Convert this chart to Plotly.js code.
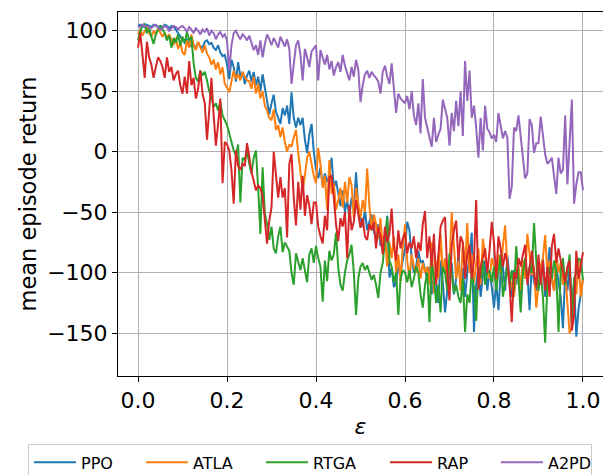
<!DOCTYPE html>
<html>
<head>
<meta charset="utf-8">
<script src="https://cdn.plot.ly/plotly-3.0.1.min.js"></script>
<style>
html,body{margin:0;padding:0;background:#fff;}
#chart{width:603px;height:475px;}
</style>
</head>
<body>
<div id="chart"></div>
<script>
const EPS = [
0,0.005,0.01,0.015,0.02,0.025,0.03,0.035,0.04,0.045,
0.05,0.055,0.06,0.065,0.07,0.075,0.08,0.085,0.09,0.095,
0.1,0.105,0.11,0.115,0.12,0.125,0.13,0.135,0.14,0.145,
0.15,0.155,0.16,0.165,0.17,0.175,0.18,0.185,0.19,0.195,
0.2,0.205,0.21,0.215,0.22,0.225,0.23,0.235,0.24,0.245,
0.25,0.255,0.26,0.265,0.27,0.275,0.28,0.285,0.29,0.295,
0.3,0.305,0.31,0.315,0.32,0.325,0.33,0.335,0.34,0.345,
0.35,0.355,0.36,0.365,0.37,0.375,0.38,0.385,0.39,0.395,
0.4,0.405,0.41,0.415,0.42,0.425,0.43,0.435,0.44,0.445,
0.45,0.455,0.46,0.465,0.47,0.475,0.48,0.485,0.49,0.495,
0.5,0.505,0.51,0.515,0.52,0.525,0.53,0.535,0.54,0.545,
0.55,0.555,0.56,0.565,0.57,0.575,0.58,0.585,0.59,0.595,
0.6,0.605,0.61,0.615,0.62,0.625,0.63,0.635,0.64,0.645,
0.65,0.655,0.66,0.665,0.67,0.675,0.68,0.685,0.69,0.695,
0.7,0.705,0.71,0.715,0.72,0.725,0.73,0.735,0.74,0.745,
0.75,0.755,0.76,0.765,0.77,0.775,0.78,0.785,0.79,0.795,
0.8,0.805,0.81,0.815,0.82,0.825,0.83,0.835,0.84,0.845,
0.85,0.855,0.86,0.865,0.87,0.875,0.88,0.885,0.89,0.895,
0.9,0.905,0.91,0.915,0.92,0.925,0.93,0.935,0.94,0.945,
0.95,0.955,0.96,0.965,0.97,0.975,0.98,0.985,0.99,0.995,1.0];

const PPO = [
104,105,104,103,105,104,103,105,104,103,
104,103,105,104,102,104,103,101,98,95,
92,90,93,89,87,88,86,90,87,86,
91,92,89,90,86,84,88,82,79,80,
72,60,76,70,58,74,62,66,56,63,
67,58,66,55,62,50,64,53,44,31,
40,47,33,28,23,36,30,38,23,49,
28,20,28,22,28,10,-1,14,23,0,
-15,-22,-13,-28,-18,-25,-20,-5,-30,-24,
-35,-45,-32,-50,-40,-54,-38,-47,-17,-46,
-55,-62,-48,-65,-58,-52,-66,-72,-60,-78,
-70,-82,-53,-104,-96,-112,-108,-95,-100,-88,
-80,-58,-65,-88,-100,-95,-82,-92,-90,-98,
-105,-95,-118,-100,-110,-125,-90,-108,-133,-115,
-100,-92,-118,-105,-85,-110,-96,-120,-100,-88,
-67,-149,-110,-95,-120,-102,-90,-115,-98,-112,
-129,-108,-131,-100,-95,-115,-86,-105,-120,-98,
-110,-95,-118,-90,-105,-100,-131,-92,-108,-115,
-97,-110,-88,-120,-100,-79,-105,-115,-95,-110,
-120,-146,-100,-115,-95,-125,-108,-153,-130,-118,-105];

const ATLA = [
97,101,96,100,103,98,95,100,97,102,
99,95,98,94,97,92,88,94,85,90,
82,80,92,86,97,88,84,91,86,82,
88,81,78,72,76,68,74,64,70,56,
53,49,58,67,60,64,59,66,62,59,
58,52,62,48,56,44,50,38,34,28,
26,35,18,22,12,20,8,0,6,4,
12,18,-1,-15,-32,-20,-5,0,-12,-20,
-26,3,-10,-30,-20,-48,-7,-35,-26,-48,
-40,-30,-46,-25,-42,-21,-28,-55,-30,-45,
-55,-40,-50,-14,-45,-65,-52,-60,-72,-55,
-80,-68,-95,-75,-88,-70,-100,-85,-107,-78,
-60,-90,-105,-85,-95,-100,-88,-105,-92,-100,
-95,-110,-75,-117,-90,-105,-68,-100,-88,-112,
-95,-50,-80,-105,-90,-115,-75,-95,-59,-100,
-85,-108,-92,-80,-110,-72,-86,-98,-105,-88,
-95,-110,-85,-100,-78,-61,-95,-105,-110,-120,
-100,-95,-115,-90,-105,-68,-85,-102,-95,-129,
-110,-95,-88,-69,-100,-90,-105,-115,-83,-100,
-92,-110,-100,-125,-150,-145,-110,-118,-90,-120,-105];

const RTGA = [
92,100,104,106,98,102,95,89,97,100,
104,101,98,92,96,86,94,90,97,88,
95,90,99,92,95,73,61,58,67,63,
66,59,50,45,37,40,34,41,30,26,
22,15,8,1,-3,6,-42,-5,-7,1,
-10,-18,-5,1,-30,-68,-13,-51,-60,-73,
-62,-80,-84,-70,-62,-83,-75,-78,-82,-100,
-110,-84,-92,-98,-88,-100,-108,-85,-80,-92,
-78,-88,-95,-124,-90,-107,-82,-90,-85,-67,
-96,-110,-115,-100,-90,-85,-77,-100,-135,-105,
-95,-92,-98,-94,-100,-106,-102,-110,-121,-100,
-92,-75,-54,-90,-95,-108,-100,-135,-105,-98,
-100,-108,-98,-112,-105,-95,-100,-118,-129,-110,
-100,-141,-90,-105,-125,-110,-133,-95,-100,-115,
-84,-100,-117,-110,-120,-125,-105,-149,-118,-125,
-100,-112,-140,-95,-105,-90,-110,-100,-98,-108,
-95,-115,-100,-85,-120,-105,-95,-110,-98,-115,
-78,-105,-133,-100,-88,-105,-95,-100,-59,-90,
-115,-100,-120,-158,-110,-95,-105,-90,-100,-149,
-98,-88,-110,-100,-85,-145,-105,-100,-88,-90,-106];

const RAP = [
86,98,80,61,91,78,72,61,70,78,
75,70,61,78,66,70,59,64,67,55,
48,62,48,75,55,61,44,52,67,48,
40,10,34,61,30,5,23,44,-26,8,
6,1,-15,-43,1,-12,-15,-10,-12,7,
-4,-17,-24,-32,-28,-30,-37,-54,-76,-57,
-46,0,-20,-38,-21,-38,-30,-71,-10,-2,
-38,-61,-25,-48,-20,-53,-36,-45,-60,-42,
-42,-62,-70,-76,-53,-65,-21,-20,-38,-60,
-74,-55,-62,-50,-88,-44,-65,-58,-40,-52,
-63,-55,-70,-73,-60,-65,-58,-80,-62,-70,
-85,-62,-75,-68,-47,-78,-90,-65,-80,-72,
-67,-84,-75,-80,-70,-88,-75,-82,-60,-49,
-88,-70,-95,-68,-110,-85,-62,-57,-54,-100,
-123,-78,-65,-57,-90,-70,-75,-105,-85,-77,
-105,-90,-40,-114,-95,-88,-80,-100,-82,-58,
-75,-105,-70,-80,-95,-84,-92,-110,-141,-100,
-105,-88,-95,-85,-77,-110,-95,-82,-100,-112,
-85,-110,-90,-115,-95,-120,-78,-68,-92,-80,
-90,-100,-108,-95,-90,-148,-135,-82,-105,-95,-83];

const A2PD = [
104,103,105,104,104,103,102,104,105,103,
101,102,104,103,100,102,104,103,101,103,
104,102,99,103,101,98,102,100,97,101,
99,102,96,100,98,93,97,99,95,97,
92,67,88,98,100,96,93,97,95,92,
96,90,84,88,80,92,78,89,97,93,
88,94,90,86,95,91,87,93,85,56,
72,88,92,80,59,85,78,70,83,86,
88,59,84,78,72,80,68,75,63,70,
74,66,80,71,64,59,70,62,76,68,
41,55,64,67,61,66,63,61,58,48,
66,71,62,56,73,55,32,48,44,42,
40,46,35,50,30,22,40,15,60,28,
20,12,4,28,8,14,19,43,35,28,
5,32,17,42,21,50,13,75,42,67,
28,38,20,-5,28,1,38,19,16,11,
14,8,32,20,11,17,12,-39,-29,20,
17,30,14,-2,-22,-18,27,22,-1,7,
7,29,15,-2,-10,-8,-5,-20,-35,-5,
-18,-15,30,-27,15,43,-43,-27,-17,-17,-32];

const SERIES_NAMES = ['PPO', 'ATLA', 'RTGA', 'RAP', 'A2PD'];
const SERIES_VALUES = [PPO, ATLA, RTGA, RAP, A2PD];
const COLORS = ['#1f77b4', '#ff7f0e', '#2ca02c', '#d62728', '#9467bd'];
const LEGEND_WIDTHS = [55, 63, 67, 54, 38];
const X_TICKS = [0, 0.2, 0.4, 0.6, 0.8, 1.0];
const Y_TICKS = [-150, -100, -50, 0, 50, 100];

const FONT = 'DejaVu Sans';

const traces = SERIES_NAMES.map((name, k) => ({
  type: 'scatter',
  mode: 'lines',
  name: name,
  x: EPS,
  y: SERIES_VALUES[k],
  line: {color: COLORS[k], width: 2},
  legendwidth: LEGEND_WIDTHS[k]
}));

const axisCommon = {
  showline: true,
  mirror: true,
  linecolor: '#000',
  linewidth: 1,
  ticks: 'outside',
  ticklen: 5,
  tickwidth: 1,
  tickcolor: '#000',
  showgrid: true,
  gridcolor: '#b0b0b0',
  gridwidth: 1,
  zeroline: false,
  tickfont: {family: FONT, size: 22, color: '#000'}
};

const layout = {
  width: 603,
  height: 475,
  margin: {l: 118, r: 0, t: 12, b: 99, autoexpand: false},
  paper_bgcolor: '#fff',
  plot_bgcolor: '#fff',
  font: {family: FONT, color: '#000'},
  showlegend: true,
  xaxis: Object.assign({}, axisCommon, {
    range: [-0.045, 1.045],
    tickvals: X_TICKS,
    tickformat: '.1f',
    title: {text: '<i>ε</i>', font: {family: FONT, size: 22, color: '#000'}, standoff: 6}
  }),
  yaxis: Object.assign({}, axisCommon, {
    range: [-185.5, 115.5],
    tickvals: Y_TICKS,
    title: {text: 'mean episode return', font: {family: FONT, size: 22.5, color: '#000'}, standoff: 4}
  }),
  legend: {
    orientation: 'h',
    x: -0.1856,
    xanchor: 'left',
    y: -0.188,
    yanchor: 'top',
    itemwidth: 42,
    font: {family: FONT, size: 16, color: '#000'},
    bordercolor: '#cccccc',
    borderwidth: 1,
    bgcolor: '#fff'
  }
};

Plotly.newPlot('chart', traces, layout, {displayModeBar: false, staticPlot: true});
</script>
</body>
</html>
